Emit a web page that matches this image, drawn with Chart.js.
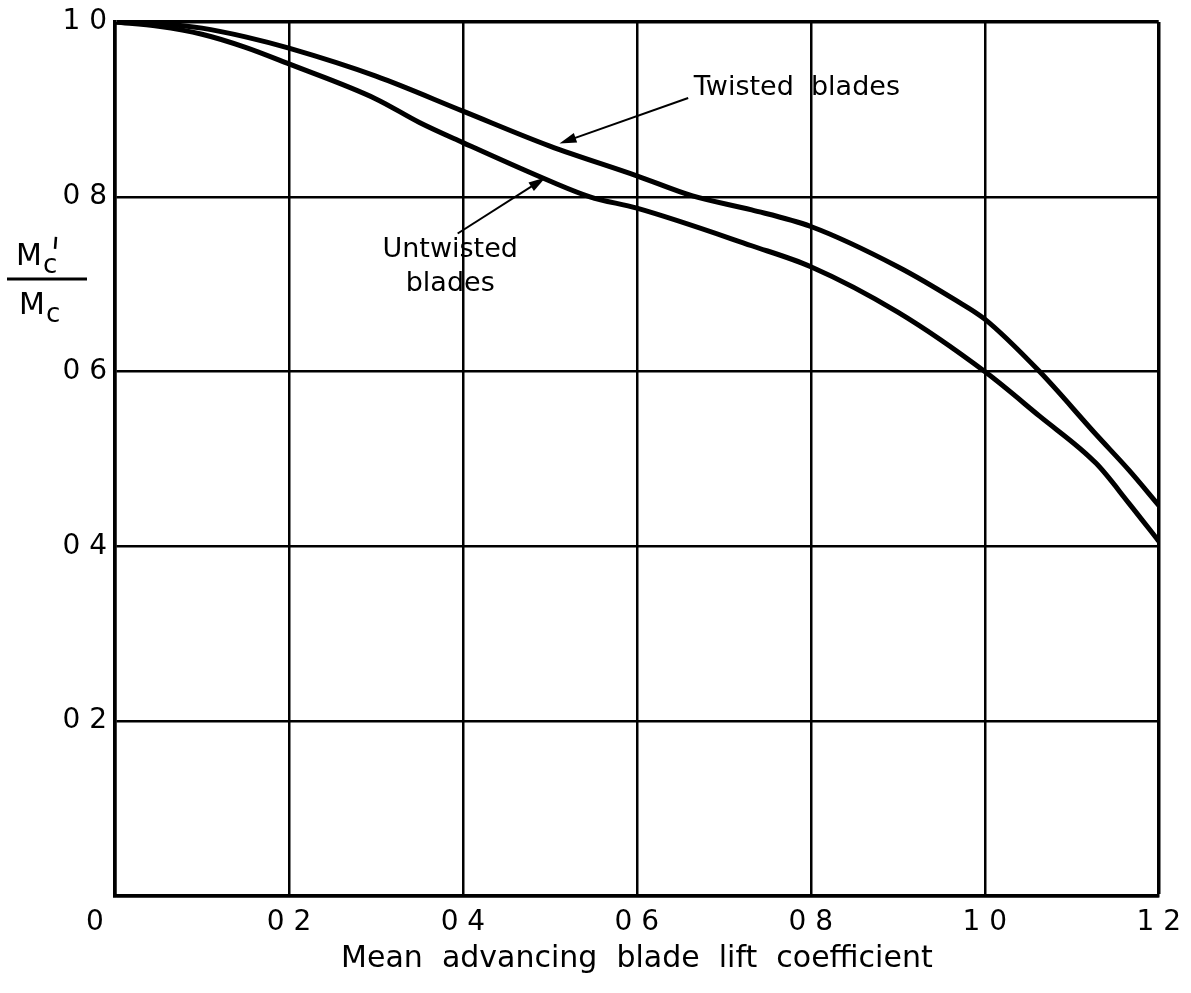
<!DOCTYPE html>
<html>
<head>
<meta charset="utf-8">
<script src="https://cdn.jsdelivr.net/npm/chart.js@4/dist/chart.umd.min.js"></script>
<style>
  html, body { margin: 0; padding: 0; background: #fff; }
  #wrap { width: 1191px; height: 993px; }
</style>
</head>
<body>
<div id="wrap"><canvas id="chart" width="1191" height="993"></canvas></div>
<script>
const twistedX = [0, 0.05, 0.1, 0.15, 0.2, 0.3, 0.4, 0.5, 0.6, 0.664, 0.732, 0.8, 0.9, 0.966, 1.0, 1.063, 1.128, 1.166, 1.2];
const twistedY = [1.0, 0.998, 0.993, 0.983, 0.970, 0.938, 0.898, 0.858, 0.824, 0.801, 0.785, 0.766, 0.720, 0.682, 0.660, 0.600, 0.528, 0.487, 0.447];

const untwistedX = [0, 0.05, 0.1, 0.15, 0.2, 0.3, 0.35, 0.4, 0.5, 0.546, 0.6, 0.732, 0.8, 0.9, 1.0, 1.063, 1.128, 1.166, 1.2];
const untwistedY = [1.0, 0.995, 0.986, 0.971, 0.952, 0.912, 0.885, 0.862, 0.818, 0.800, 0.787, 0.744, 0.720, 0.668, 0.600, 0.549, 0.495, 0.449, 0.406];

// annotation anchors in data units: label position, arrow tail, arrow tip
const twistedNote = { text: ['Twisted  blades'], at: [0.662, 0.925], tail: [0.659, 0.913], tip: [0.511, 0.861] };
const untwistedNote = { text: ['Untwisted', 'blades'], at: [0.39, 0.745], tail: [0.394, 0.758], tip: [0.495, 0.822] };

const xTitle = 'Mean  advancing  blade  lift  coefficient';

const FONT = '"DejaVu Sans", sans-serif';

function fmtTick(v) {
  return v.toFixed(1).replace('.', ' ');
}

function toPts(xs, ys) {
  return xs.map((x, i) => ({ x: x, y: ys[i] }));
}

const notesPlugin = {
  id: 'notes',
  afterDatasetsDraw(chart) {
    const { ctx, scales: { x, y } } = chart;
    ctx.save();
    ctx.fillStyle = '#000';
    ctx.strokeStyle = '#000';

    function arrow(tail, tip) {
      const x0 = x.getPixelForValue(tail[0]), y0 = y.getPixelForValue(tail[1]);
      const x1 = x.getPixelForValue(tip[0]), y1 = y.getPixelForValue(tip[1]);
      const ang = Math.atan2(y1 - y0, x1 - x0);
      ctx.lineWidth = 2;
      ctx.beginPath();
      ctx.moveTo(x0, y0);
      ctx.lineTo(x1 - 10 * Math.cos(ang), y1 - 10 * Math.sin(ang));
      ctx.stroke();
      ctx.beginPath();
      ctx.moveTo(x1, y1);
      ctx.lineTo(x1 - 17 * Math.cos(ang) + 5 * Math.sin(ang), y1 - 17 * Math.sin(ang) - 5 * Math.cos(ang));
      ctx.lineTo(x1 - 17 * Math.cos(ang) - 5 * Math.sin(ang), y1 - 17 * Math.sin(ang) + 5 * Math.cos(ang));
      ctx.closePath();
      ctx.fill();
    }

    ctx.font = '27px ' + FONT;
    ctx.textBaseline = 'middle';

    // Twisted blades
    ctx.textAlign = 'left';
    ctx.fillText(twistedNote.text[0], x.getPixelForValue(twistedNote.at[0]) + 3, y.getPixelForValue(twistedNote.at[1]));
    arrow(twistedNote.tail, twistedNote.tip);

    // Untwisted blades
    ctx.textAlign = 'center';
    const ux = x.getPixelForValue(untwistedNote.at[0]) - 4;
    const uy = y.getPixelForValue(untwistedNote.at[1]) + 5;
    ctx.fillText(untwistedNote.text[0], ux, uy);
    ctx.fillText(untwistedNote.text[1], ux, uy + 34);
    arrow(untwistedNote.tail, untwistedNote.tip);

    // origin label sits left of the corner
    ctx.font = '28px ' + FONT;
    ctx.textAlign = 'center';
    ctx.fillText('0', chart.chartArea.left - 20, chart.chartArea.bottom + 27);

    // y axis label as a fraction  M'c / Mc
    const lineY = y.getPixelForValue(0.706);
    ctx.lineWidth = 3;
    ctx.beginPath();
    ctx.moveTo(7, lineY);
    ctx.lineTo(87, lineY);
    ctx.stroke();
    ctx.textAlign = 'left';
    ctx.textBaseline = 'alphabetic';
    ctx.font = '30px ' + FONT;
    ctx.fillText('M', 16, lineY - 14);
    ctx.fillText('M', 19, lineY + 35);
    ctx.font = '26px ' + FONT;
    ctx.fillText('c', 43, lineY - 6);
    ctx.fillText('c', 46, lineY + 43);
    ctx.lineWidth = 2.5;
    ctx.beginPath();
    ctx.moveTo(56, lineY - 42);
    ctx.lineTo(55, lineY - 30);
    ctx.stroke();
    ctx.restore();
  }
};

new Chart(document.getElementById('chart'), {
  type: 'line',
  data: {
    datasets: [
      {
        label: 'Twisted blades',
        data: toPts(twistedX, twistedY),
        borderColor: '#000',
        borderWidth: 5,
        pointRadius: 0,
        cubicInterpolationMode: 'monotone',
        fill: false
      },
      {
        label: 'Untwisted blades',
        data: toPts(untwistedX, untwistedY),
        borderColor: '#000',
        borderWidth: 5,
        pointRadius: 0,
        cubicInterpolationMode: 'monotone',
        fill: false
      }
    ]
  },
  options: {
    responsive: false,
    animation: false,
    layout: { padding: { left: 0, top: 21, right: 26, bottom: 0 } },
    plugins: {
      legend: { display: false },
      tooltip: { enabled: false }
    },
    scales: {
      x: {
        type: 'linear',
        min: 0,
        max: 1.2,
        afterFit: s => { s.height = 97; },
        border: { color: '#000', width: 3.5 },
        grid: {
          color: '#000',
          lineWidth: c => (c.tick && Math.abs(c.tick.value - 1.2) < 1e-6 ? 3.5 : 2.5),
          drawTicks: false
        },
        ticks: {
          stepSize: 0.2,
          padding: 10,
          color: '#000',
          font: { family: FONT, size: 28 },
          maxRotation: 0,
          callback: v => (v === 0 ? '' : fmtTick(v))
        },
        title: {
          display: true,
          text: xTitle,
          color: '#000',
          font: { family: FONT, size: 30 },
          padding: { top: 0, bottom: 16 }
        }
      },
      y: {
        min: 0,
        max: 1.0,
        afterFit: s => { s.width = 115; },
        border: { color: '#000', width: 3.5 },
        grid: {
          color: '#000',
          lineWidth: c => (c.tick && Math.abs(c.tick.value - 1.0) < 1e-6 ? 3.5 : 2.5),
          drawTicks: false
        },
        ticks: {
          stepSize: 0.2,
          padding: 8,
          color: '#000',
          font: { family: FONT, size: 28, lineHeight: 1 },
          callback: v => (v === 0 ? '' : fmtTick(v))
        }
      }
    }
  },
  plugins: [notesPlugin]
});
</script>
</body>
</html>
